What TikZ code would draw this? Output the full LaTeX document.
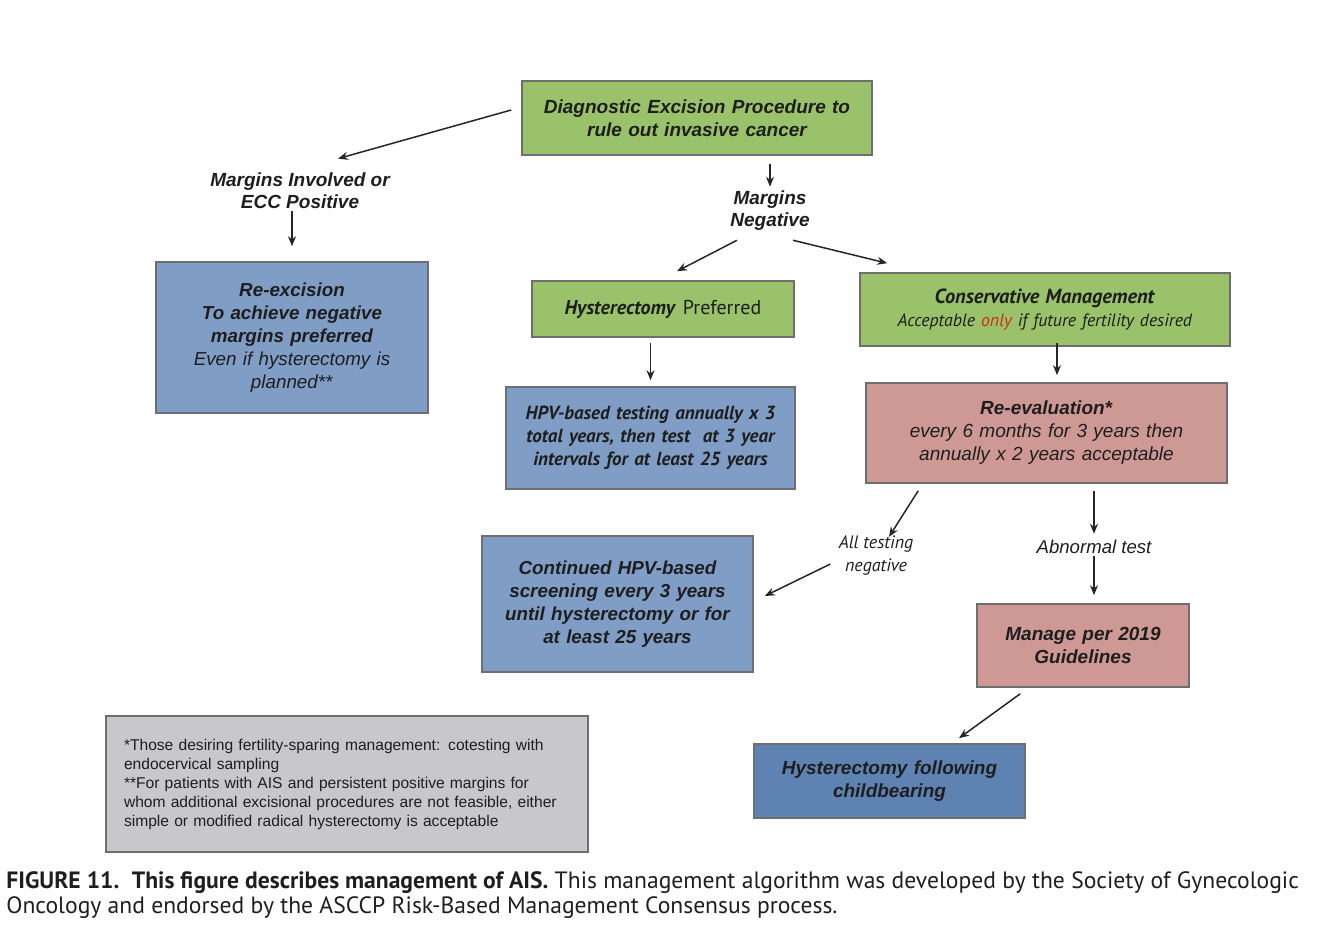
\documentclass[tikz,border=0pt]{standalone}
\usepackage{fontspec}
\setmainfont{Liberation Sans}
\newfontfamily\myriadlike{PT Sans}
\usetikzlibrary{arrows.meta}
\definecolor{boxgreen}{RGB}{153,194,106}
\definecolor{boxblue}{RGB}{128,157,198}
\definecolor{boxdeep}{RGB}{94,130,178}
\definecolor{boxpink}{RGB}{206,153,149}
\definecolor{boxgray}{RGB}{200,200,202}
\definecolor{edgegray}{RGB}{110,110,110}
\definecolor{inkgray}{RGB}{30,30,30}
\definecolor{onlyred}{RGB}{205,45,35}

\begin{document}
\begin{tikzpicture}[x=0.5pt,y=-0.5pt,
  box/.style={draw=edgegray,line width=0.8pt,inner sep=0pt,align=center,text=inkgray},
  lbl/.style={inner sep=0pt,align=center,text=inkgray},
  arr/.style={-{Stealth[length=5pt,width=4pt]},line width=0.75pt,black!85}]

\useasboundingbox (0,0) rectangle (1334,933);

% boxes
\node[box,fill=boxgreen,minimum width=175pt,minimum height=37pt,text width=170pt,
  font=\bfseries\itshape\fontsize{9.5}{11.5}\selectfont] (diag) at (697,118)
  {Diagnostic Excision Procedure to\\rule out invasive cancer};
\node[box,fill=boxblue,minimum width=136pt,minimum height=75.5pt,text width=130pt,
  font=\fontsize{9.4}{11.5}\selectfont] (reexc) at (292,337.5)
  {\textbf{\textit{Re-excision}}\\\textbf{\textit{To achieve negative}}\\\textbf{\textit{margins preferred}}\\\textit{Even if hysterectomy is}\\\textit{planned**}};
\node[box,fill=boxgreen,minimum width=131pt,minimum height=28pt,text width=125pt,
  font=\myriadlike\fontsize{10}{11.5}\selectfont] (hyst) at (663,309)
  {\textbf{\textit{Hysterectomy}} Preferred};
\node[box,fill=boxgreen,minimum width=185pt,minimum height=36.5pt,text width=180pt,
  font=\myriadlike\fontsize{8.9}{11.5}\selectfont] (cons) at (1045,309.5)
  {{\fontsize{10.2}{11.5}\selectfont\textbf{\textit{Conservative Management}}}\\\textit{Acceptable \textcolor{onlyred}{only} if future fertility desired}};
\node[box,fill=boxblue,minimum width=144.5pt,minimum height=51pt,text width=140pt,
  font=\myriadlike\bfseries\itshape\fontsize{9.5}{11.5}\selectfont] (hpv) at (650.5,438)
  {HPV-based testing annually x 3\\total years, then test\ \ at 3 year\\intervals for at least 25 years};
\node[box,fill=boxpink,minimum width=180.5pt,minimum height=50pt,text width=175pt,
  font=\fontsize{9.5}{11.5}\selectfont] (reeval) at (1046.5,433)
  {\textbf{\textit{Re-evaluation*}}\\\textit{every 6 months for 3 years then}\\\textit{annually x 2 years acceptable}};
\node[box,fill=boxblue,minimum width=135.5pt,minimum height=68pt,text width=130pt,
  font=\bfseries\itshape\fontsize{9.4}{11.5}\selectfont] (cont) at (617.5,604)
  {Continued HPV-based\\screening every 3 years\\until hysterectomy or for\\at least 25 years};
\node[box,fill=boxpink,minimum width=106pt,minimum height=41.5pt,text width=100pt,
  font=\bfseries\itshape\fontsize{9.5}{11.5}\selectfont] (manage) at (1083,645.5)
  {Manage per 2019\\Guidelines};
\node[box,fill=boxdeep,minimum width=135.5pt,minimum height=37pt,text width=130pt,
  font=\bfseries\itshape\fontsize{9.5}{11.5}\selectfont] (hfc) at (889.5,781)
  {Hysterectomy following\\childbearing};
\node[box,fill=boxgray,minimum width=241pt,minimum height=68pt,text width=223pt,
  inner xsep=9pt,align=left,font=\fontsize{7.8}{9.5}\selectfont] (note) at (347,784)
  {*Those desiring fertility-sparing management: cotesting with\\endocervical sampling\\{}**For patients with AIS and persistent positive margins for\\whom additional excisional procedures are not feasible, either\\simple or modified radical hysterectomy is acceptable};

% labels
\node[lbl,font=\bfseries\itshape\fontsize{9.5}{11}\selectfont] (minv) at (300,191)
  {Margins Involved or\\ECC Positive};
\node[lbl,font=\bfseries\itshape\fontsize{9.5}{11}\selectfont] (mneg) at (770,211)
  {Margins\\Negative};
\node[lbl,font=\myriadlike\itshape\fontsize{9}{11.5}\selectfont] (alltest) at (876,555)
  {All testing\\negative};
\node[lbl,font=\itshape\fontsize{9.3}{11}\selectfont] (abn) at (1094,547)
  {Abnormal test};

% arrows
\draw[arr] ([shift={(-5pt,4pt)}]diag.west) -- ([shift={(19pt,7pt)}]minv.north);
\draw[arr,shorten <=1pt,shorten >=7.5pt] (minv.south -| reexc.north) -- (reexc.north);
\draw[arr,shorten <=4pt,shorten >=2pt] (diag.south -| mneg.north) -- (mneg.north);
\draw[arr] ([shift={(-16.5pt,-4.5pt)}]mneg.south) -- ([shift={(7pt,4.5pt)}]hyst.north);
\draw[arr] ([shift={(11.5pt,-4.5pt)}]mneg.south) -- ([shift={(14pt,4.5pt)}]cons.north west);
\draw[arr,shorten <=2.5pt,shorten >=3pt] (hyst.south -| hpv.north) -- (hpv.north);
\draw[arr,shorten <=-2pt,shorten >=3.5pt] ([xshift=6pt]cons.south) -- ([xshift=6pt]cons.south |- reeval.north);
\draw[arr] ([shift={(26.5pt,-3.5pt)}]reeval.south west) -- ([shift={(6.5pt,-1pt)}]alltest.north);
\draw[arr] ([shift={(-4pt,-4.5pt)}]alltest.west) -- ([shift={(5.5pt,4pt)}]cont.east);
\draw[arr,shorten <=3.5pt,shorten >=3pt] (reeval.south -| abn.north) -- (abn.north);
\draw[arr,shorten <=1pt,shorten >=4pt] (abn.south) -- (abn.south |- manage.north);
\draw[arr] ([shift={(22pt,-3pt)}]manage.south west) -- ([shift={(34.75pt,2.5pt)}]hfc.north);

% caption
\node[inner sep=0pt,anchor=base west,align=left,text=inkgray,
  font=\myriadlike\fontsize{11.8}{12.5}\selectfont] (caption) at (6,913)
  {\textbf{FIGURE 11.}\ \ \textbf{This figure describes management of AIS.} This management algorithm was developed by the Society of Gynecologic\\Oncology and endorsed by the ASCCP Risk-Based Management Consensus process.};
\end{tikzpicture}
\end{document}
